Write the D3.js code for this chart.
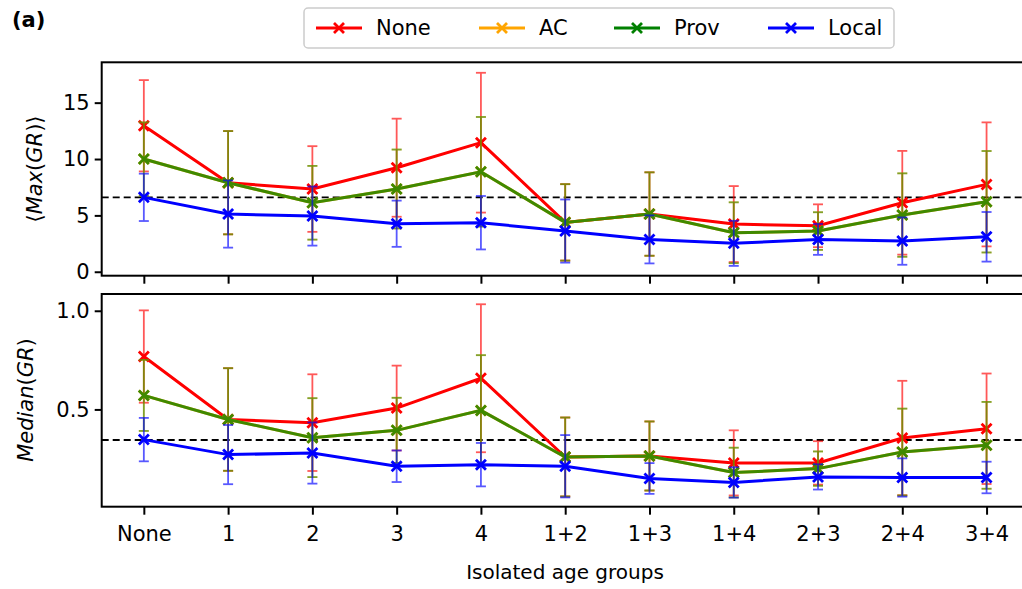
<!DOCTYPE html>
<html>
<head>
<meta charset="utf-8">
<script src="https://cdn.jsdelivr.net/npm/d3@7"></script>
<style>
  body { margin: 0; background: #fff; }
  text { font-family: "DejaVu Sans", sans-serif; fill: #000; }
</style>
</head>
<body>
<script>
// categories
var groups = ["None", "1", "2", "3", "4", "1+2", "1+3", "1+4", "2+3", "2+4", "3+4"];

// top panel: <Max(GR)>
var maxNone  = [12.95, 7.9, 7.34, 9.23, 11.45, 4.38, 5.12, 4.23, 4.08, 6.12, 7.75];
var maxNoneE = [4.05, 4.58, 3.8, 4.35, 6.2, 3.39, 3.7, 3.37, 1.9, 4.6, 5.5];
var maxProv  = [10.0, 7.9, 6.12, 7.34, 8.87, 4.38, 5.12, 3.46, 3.61, 5.03, 6.21];
var maxProvE = [3.25, 4.58, 3.27, 3.5, 4.86, 3.39, 3.7, 2.7, 1.67, 3.7, 4.5];
var maxLocal  = [6.6, 5.12, 4.94, 4.26, 4.35, 3.61, 2.87, 2.52, 2.87, 2.72, 3.1];
var maxLocalE = [2.1, 2.98, 2.62, 2.05, 2.37, 2.8, 2.13, 2.0, 1.37, 2.1, 2.2];
var maxRef = 6.6;

// bottom panel: Median(GR)
var medNone  = [0.768, 0.449, 0.433, 0.507, 0.658, 0.259, 0.264, 0.229, 0.229, 0.355, 0.402];
var medNoneE = [0.234, 0.26, 0.245, 0.215, 0.375, 0.2, 0.175, 0.165, 0.11, 0.29, 0.28];
var medProv  = [0.571, 0.449, 0.357, 0.394, 0.495, 0.259, 0.264, 0.18, 0.2, 0.284, 0.318];
var medProvE = [0.18, 0.26, 0.2, 0.165, 0.28, 0.2, 0.175, 0.126, 0.087, 0.22, 0.22];
var medLocal  = [0.347, 0.271, 0.279, 0.212, 0.22, 0.212, 0.15, 0.13, 0.158, 0.155, 0.155];
var medLocalE = [0.11, 0.15, 0.155, 0.08, 0.11, 0.158, 0.078, 0.077, 0.064, 0.097, 0.08];
var medRef = 0.345;

var topTicks = [0, 5, 10, 15];
var bottomTicks = [0.5, 1.0];

var W = 1022, H = 589;
var svg = d3.select("body").append("svg")
    .attr("width", W)
    .attr("height", H);

var x = d3.scalePoint().domain(groups).range([101.7, 1028.7]).padding(0.5);

var yTop = d3.scaleLinear().domain([-0.35, 18.58]).range([275.7, 62.3]);
var yBot = d3.scaleLinear().domain([0.007, 1.085]).range([506.7, 294]);

// AC is identical to Prov and hidden under it
var panels = [
    { y: yTop, ticks: topTicks, ref: maxRef, fmt: d3.format("d"),
      series: [
        { name: "None", color: "#ff0000", v: maxNone, e: maxNoneE, op: 1 },
        { name: "AC", color: "#ffa500", v: maxProv, e: maxProvE, op: 1 },
        { name: "Prov", color: "#008000", v: maxProv, e: maxProvE, op: 0.75 },
        { name: "Local", color: "#0000ff", v: maxLocal, e: maxLocalE, op: 1 }
      ] },
    { y: yBot, ticks: bottomTicks, ref: medRef, fmt: d3.format(".1f"),
      series: [
        { name: "None", color: "#ff0000", v: medNone, e: medNoneE, op: 1 },
        { name: "AC", color: "#ffa500", v: medProv, e: medProvE, op: 1 },
        { name: "Prov", color: "#008000", v: medProv, e: medProvE, op: 0.75 },
        { name: "Local", color: "#0000ff", v: medLocal, e: medLocalE, op: 1 }
      ] }
];

function xMark(g, cx, cy, color, s) {
    g.append("path")
        .attr("d", "M" + (cx - s) + "," + (cy - s) + "L" + (cx + s) + "," + (cy + s) +
                   "M" + (cx - s) + "," + (cy + s) + "L" + (cx + s) + "," + (cy - s))
        .attr("stroke", color)
        .attr("stroke-width", 2.8)
        .attr("fill", "none");
}

panels.forEach(function (p, pi) {
    var y = p.y;
    var x0 = 101.7, x1 = 1028.7;
    var y0 = y.range()[0], y1 = y.range()[1];

    var clipId = "clip" + pi;
    svg.append("clipPath").attr("id", clipId)
        .append("rect").attr("x", x0).attr("y", y1).attr("width", x1 - x0).attr("height", y0 - y1);

    var g = svg.append("g").attr("clip-path", "url(#" + clipId + ")");

    // dashed reference line
    g.append("line")
        .attr("x1", x0).attr("x2", x1)
        .attr("y1", y(p.ref)).attr("y2", y(p.ref))
        .attr("stroke", "#000")
        .attr("stroke-width", 1.8)
        .attr("stroke-dasharray", "7,4");

    p.series.forEach(function (s) {
        var sg = g.append("g").attr("opacity", s.op);
        // error bars
        var bars = sg.append("g").attr("stroke", s.color).attr("stroke-width", 1.8).attr("opacity", 0.65);
        groups.forEach(function (k, i) {
            var cx = x(k), lo = y(s.v[i] - s.e[i]), hi = y(s.v[i] + s.e[i]);
            bars.append("line").attr("x1", cx).attr("x2", cx).attr("y1", lo).attr("y2", hi);
            bars.append("line").attr("x1", cx - 5).attr("x2", cx + 5).attr("y1", lo).attr("y2", lo);
            bars.append("line").attr("x1", cx - 5).attr("x2", cx + 5).attr("y1", hi).attr("y2", hi);
        });
        var line = d3.line()
            .x(function (d, i) { return x(groups[i]); })
            .y(function (d) { return y(d); });
        sg.append("path")
            .datum(s.v)
            .attr("d", line)
            .attr("fill", "none")
            .attr("stroke", s.color)
            .attr("stroke-width", 3);
        groups.forEach(function (k, i) {
            xMark(sg, x(k), y(s.v[i]), s.color, 5);
        });
    });

    // axes
    svg.append("g")
        .attr("transform", "translate(" + x0 + ",0)")
        .call(d3.axisLeft(y).tickValues(p.ticks).tickFormat(p.fmt).tickSize(7).tickPadding(5))
        .call(function (a) {
            a.select(".domain").remove();
            a.selectAll(".tick line").attr("stroke-width", 2);
            a.selectAll(".tick text").style("font-size", "21px").style("font-family", "DejaVu Sans");
        });

    svg.append("g")
        .attr("transform", "translate(0," + y0 + ")")
        .call(d3.axisBottom(x).tickSize(8).tickPadding(11))
        .call(function (a) {
            a.select(".domain").remove();
            a.selectAll(".tick line").attr("stroke-width", 2);
            a.selectAll(".tick text")
                .style("font-size", "21px").style("font-family", "DejaVu Sans")
                .style("display", pi === 0 ? "none" : null);
        });

    // frame
    svg.append("rect")
        .attr("x", x0).attr("y", y1)
        .attr("width", x1 - x0).attr("height", y0 - y1)
        .attr("fill", "none")
        .attr("stroke", "#000")
        .attr("stroke-width", 2);
});

// y titles
var t1 = svg.append("text")
    .attr("transform", "translate(42,169) rotate(-90)")
    .attr("text-anchor", "middle")
    .style("font-size", "21px");
t1.append("tspan").text("\u27E8");
t1.append("tspan").style("font-style", "italic").text("Max");
t1.append("tspan").text("(");
t1.append("tspan").style("font-style", "italic").text("GR");
t1.append("tspan").text(")\u27E9");

var t2 = svg.append("text")
    .attr("transform", "translate(33,400) rotate(-90)")
    .attr("text-anchor", "middle")
    .style("font-size", "21px");
t2.append("tspan").style("font-style", "italic").text("Median");
t2.append("tspan").text("(");
t2.append("tspan").style("font-style", "italic").text("GR");
t2.append("tspan").text(")");

svg.append("text")
    .attr("x", 565).attr("y", 579)
    .attr("text-anchor", "middle")
    .style("font-size", "20px")
    .text("Isolated age groups");

svg.append("text")
    .attr("x", 12).attr("y", 27)
    .style("font-size", "21px")
    .style("font-weight", "bold")
    .text("(a)");

// legend
var legendNames = ["None", "AC", "Prov", "Local"];
var legendColors = ["#ff0000", "#ffa500", "#008000", "#0000ff"];
var legendX = [316, 479, 614, 768];

svg.append("rect")
    .attr("x", 304).attr("y", 8)
    .attr("width", 590).attr("height", 40)
    .attr("rx", 4)
    .attr("fill", "#fff")
    .attr("stroke", "#cccccc")
    .attr("stroke-width", 1.5);

legendNames.forEach(function (n, i) {
    var lx = legendX[i], ly = 28;
    var lg = svg.append("g");
    lg.append("line")
        .attr("x1", lx).attr("x2", lx + 46)
        .attr("y1", ly).attr("y2", ly)
        .attr("stroke", legendColors[i])
        .attr("stroke-width", 3);
    xMark(lg, lx + 23, ly, legendColors[i], 5);
    svg.append("text")
        .attr("x", lx + 60).attr("y", ly + 7)
        .style("font-size", "21px")
        .text(n);
});
</script>
</body>
</html>
